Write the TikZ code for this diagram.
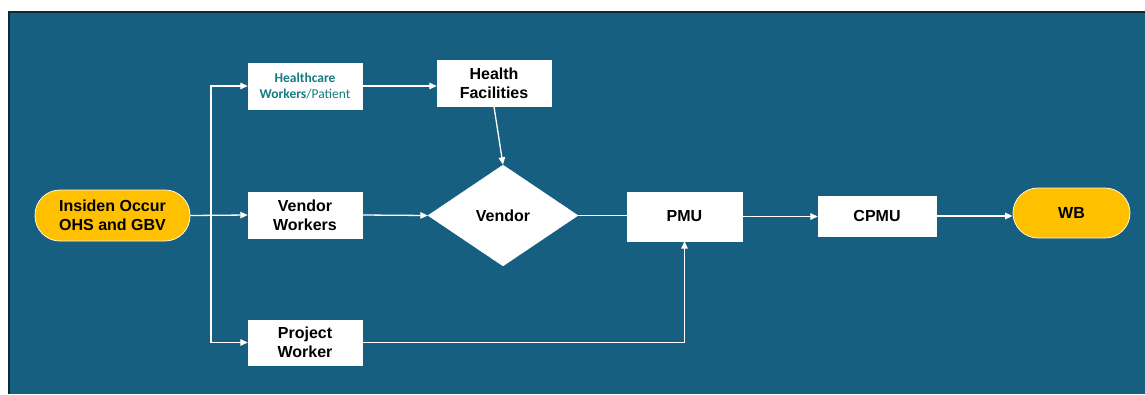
\documentclass[tikz,border=0pt]{standalone}
\usepackage{fontspec}
\setmainfont{Liberation Sans}
\newfontfamily\calibrifont{Carlito}
\usetikzlibrary{shapes.geometric,arrows.meta}

\definecolor{panel}{RGB}{23,95,128}
\definecolor{paneledge}{RGB}{14,40,56}
\definecolor{pillfill}{RGB}{255,192,0}
\definecolor{tealtext}{RGB}{20,125,128}

\tikzset{
  labelfont/.style={font=\fontsize{16}{19}\selectfont\bfseries, text=black},
  box/.style={draw=white, fill=white, minimum width=114pt, minimum height=46pt,
    inner sep=0pt, align=center, labelfont},
  pill/.style={draw=white!85!pillfill, line width=0.8pt, fill=pillfill, rounded corners=25pt,
    inner sep=0pt, align=center, labelfont},
  decision/.style={diamond, draw=white, fill=white, minimum width=150pt, minimum height=101pt,
    inner sep=0pt, labelfont},
  conn/.style={draw=white, line width=1.3pt},
  arrowed/.style={conn, -{Triangle[length=7.5pt,width=6.5pt]}}
}

\begin{document}
\begin{tikzpicture}[x=1pt,y=-1pt]
  \useasboundingbox (0,0) rectangle (1145,394);
  % panel
  \fill[white] (0,0) rectangle (1145,394);
  \fill[panel] (9,12) rectangle (1145,394);
  \draw[paneledge, line width=2pt] (9,394) -- (9,12) -- (1145,12);

  % nodes
  \node[pill, minimum width=155pt, minimum height=51pt] (ins) at (112.5,215.5) {Insiden Occur\\OHS and GBV};
  \node[box, font=\calibrifont\fontsize{13.5}{16.5}\selectfont, text=tealtext] (hcw) at (305,86)
    {\textbf{Healthcare}\\\textbf{Workers}/Patient};
  \node[box] (hf) at (494,83.5) {Health\\Facilities};
  \node[box] (vw) at (305,215) {Vendor\\Workers};
  \node[box, minimum height=45pt] (pw) at (305,342.5) {Project\\Worker};
  \node[decision] (vendor) at (503,215.5) {Vendor};
  \node[box, minimum width=115pt, minimum height=49pt] (pmu) at (684.5,216.5) {PMU};
  \node[box, minimum width=118pt, minimum height=40pt] (cpmu) at (877,216) {CPMU};
  \node[pill, minimum width=117pt, minimum height=50pt] (wb) at (1071.5,213) {WB};

  % connectors
  \coordinate (br) at (211,215);
  \draw[arrowed] (ins.east) -- (vw.west);
  \draw[arrowed] (br) |- (hcw.west);
  \draw[arrowed] (br) |- (pw.west);
  \draw[arrowed] (hcw.east) -- (hcw.east -| hf.west);
  \draw[arrowed] (hf.south) -- (vendor.north);
  \draw[arrowed] (vw.east) -- (vendor.west);
  \draw[conn] (vendor.east) -- (vendor.east -| pmu.west);
  \draw[arrowed] (pw.east) -| (pmu.south);
  \draw[arrowed] (pmu.east) -- (pmu.east -| cpmu.west);
  \draw[arrowed] (cpmu.east) -- (cpmu.east -| wb.west);
\end{tikzpicture}
\end{document}
